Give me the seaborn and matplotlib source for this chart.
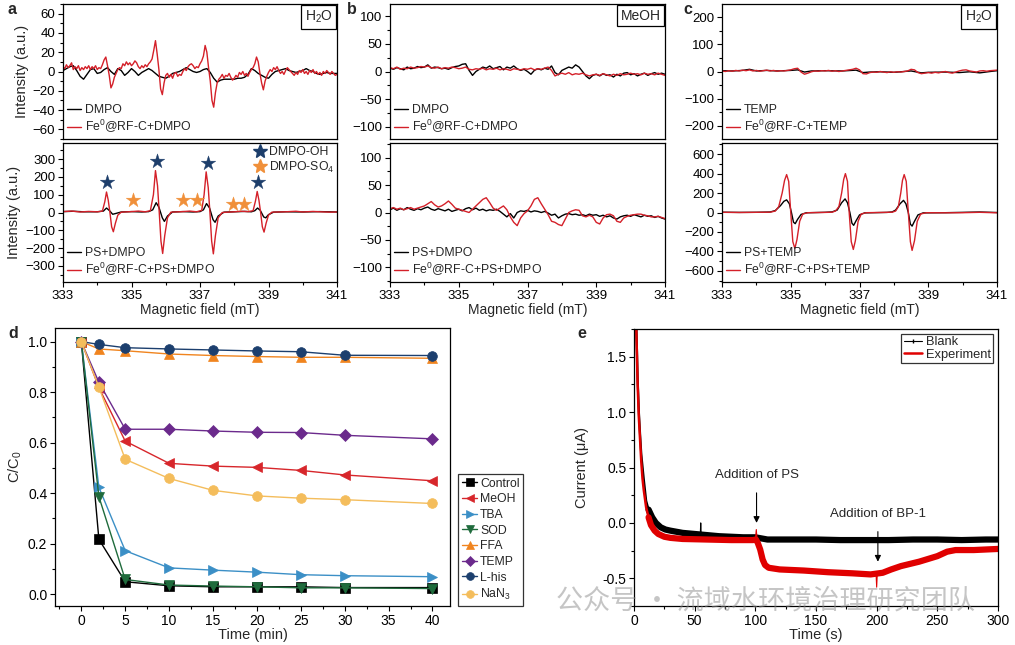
import numpy as np
import pandas as pd
import matplotlib
matplotlib.use("Agg")
from matplotlib import pyplot as plt
from matplotlib.lines import Line2D
from matplotlib.ticker import MultipleLocator, FormatStrFormatter
import seaborn as sns

# ---------------- EPR spectra (panels a-c) ----------------
# sampling grids of the field axis (mT)
FIELD_FINE = np.round(np.arange(333.0, 341.001, 0.05), 2)   # 161 pts
FIELD = np.round(np.arange(333.0, 341.001, 0.1), 1)          # 81 pts

# a, upper (H2O, no PS)
A1_DMPO = [1, 3, 5, 6, 1, -5, -8, -3, 2, 3,
           -2, -1, 2, 4, 0, -3, 3, 1, -4, -1,
           3, 0, -4, -1, 1, 3, 1, -2, -5, -6,
           -7, -5, -2, -1, 0, 2, 4, 2, 0, -1,
           0, 2, 3, -1, -7, -11, -9, -8, -8, -8,
           -8, -7, -7, -6, -3, 3, 1, -2, -4, -6,
           -7, -3, 0, 1, 2, 3, 1, 0, -1, 0,
           1, 3, 1, 0, -2, -3, -2, -1, -2, -2,
           -2]
A1_FE = [5, 3, 7, 4, 6, 9, 2, 5, 3, 6, 1, 4, 2, 5, 3, 6, 2, 5, 3, 6,
         2, 4, 3, 7, 12, 15, 6, -4, -17, -13, -6, -2, 2, 4, 3, 8, 6, 10, 7, 9,
         6, 8, 11, 9, 5, 3, 6, 4, 7, 5, 8, 10, 13, 22, 32, 18, 2, -18, -24, -12,
         -4, -2, -6, -3, -7, -2, -1, -5, -3, -4, 0, 3, 1, 5, 7, 8, 6, 3, 5, 4,
         8, 11, 16, 27, 20, 4, -10, -30, -37, -22, -12, -8, -6, -3, -7, -4, -5, -2, -6, -9,
         -7, -4, -6, -1, -3, 0, -4, -2, -5, -1, 2, 4, 8, 15, 10, -2, -12, -19, -10, -5,
         -1, 2, 0, 4, 2, 5, 1, -2, 0, -3, 1, 4, 2, 0, -2, -4, -1, -3, 1, -1,
         2, -2, 0, -3, 1, -1, 2, -2, 0, -3, -1, -4, 0, -2, 1, -1, -3, 0, -2, -4,
         -3]

# a, lower (H2O, with PS)
A2_PS_X = [333.0, 333.3, 333.6, 334.0, 334.18, 334.27, 334.36, 334.45, 334.55, 334.7,
           335.0, 335.3, 335.5, 335.62, 335.72, 335.8, 335.9, 335.96, 336.05, 336.2,
           336.5, 336.8, 337.0, 337.1, 337.19, 337.28, 337.38, 337.44, 337.53, 337.7,
           338.0, 338.3, 338.5, 338.6, 338.68, 338.76, 338.86, 338.92, 339.0, 339.15,
           339.5, 340.0, 340.5, 341.0]
A2_PS = [5, 7, 4, 4, 8, 25, 10, -10, -5, 3,
         5, 3, 5, 15, 55, 30, -30, -50, -20, 3,
         5, 3, 5, 15, 50, 25, -40, -55, -20, 2,
         4, 6, 4, 10, 25, 12, -25, -30, -12, 2,
         4, 3, 5, 3]
A2_FE_X = [333.0, 333.25, 333.5, 333.75, 334.0, 334.15, 334.22, 334.27, 334.32, 334.37,
           334.42, 334.47, 334.53, 334.6, 334.7, 335.0, 335.2, 335.4, 335.55, 335.64,
           335.7, 335.76, 335.81, 335.86, 335.91, 335.97, 336.05, 336.15, 336.5, 336.7,
           336.9, 337.05, 337.12, 337.18, 337.24, 337.29, 337.34, 337.39, 337.45, 337.53,
           337.65, 338.0, 338.2, 338.4, 338.55, 338.62, 338.67, 338.72, 338.77, 338.82,
           338.87, 338.93, 339.0, 339.1, 339.5, 339.8, 340.0, 340.3, 340.5, 340.8,
           341.0]
A2_FE = [5, 8, 3, 6, 4, 8, 60, 115, 70, 0,
         -80, -108, -60, -15, 2, 5, 8, 4, 10, 100,
         235, 150, 0, -160, -230, -130, -30, 2, 5, 8,
         4, 12, 100, 228, 140, 0, -160, -232, -130, -30,
         0, 4, 7, 5, 10, 65, 118, 70, 0, -80,
         -110, -60, -15, 2, 4, 7, 3, 6, 4, 2,
         3]
OH_STAR_X = [334.29, 335.73, 337.22, 338.69]
OH_STAR_Y = [172, 290, 276, 172]
SO4_STAR_X = [335.03, 336.49, 336.9, 337.95, 338.29]
SO4_STAR_Y = [72, 72, 72, 50, 50]

# b, upper (MeOH, no PS)
B1_DMPO = [6, 4, 7, 5, 3, 8, 5, 6, 9, 7,
           8, 12, 6, 8, 7, 5, 6, 4, 7, 9,
           10, 13, 14, 2, -7, 0, 4, 8, 6, 10,
           5, 7, 9, 3, 8, 6, 10, 5, 2, 4,
           0, -5, 2, 5, 3, 6, 4, 10, -2, -6,
           2, 5, 8, 6, 12, 8, 0, -8, -13, -7,
           -5, -8, -4, -7, -6, -10, -5, -8, -3, -2,
           -6, -4, -8, -5, -3, -7, -4, -2, -5, -3,
           -5]
B1_FE = [7, 5, 8, 4, 6, 5, 8, 6, 7, 9,
         8, 10, 7, 6, 8, 5, 7, 6, 8, 7,
         5, 6, 8, 4, 3, 5, 4, 6, 3, 5,
         4, 6, 3, 5, 4, 2, 5, 4, 3, 5,
         4, 6, 3, 5, 4, 6, 8, 2, -8, -5,
         -3, -5, -2, -6, -4, -5, -3, -6, -8, -6,
         -5, -7, -4, -6, -8, -5, -7, -4, -6, -5,
         -3, -5, -4, -6, -3, -5, -4, -6, -3, -5,
         -7]

# b, lower (MeOH, with PS)
B2_PS = [5, 8, 4, 7, 5, 9, 6, 4, 7, 5,
         8, 10, 6, 4, 7, 5, 3, 6, 2, 4,
         6, 3, 7, 9, 5, 8, 4, 6, 3, 5,
         4, 6, 2, -3, -8, -2, -10, 0, 3, 2,
         4, 1, 3, 2, 0, 2, -1, -5, -3, -10,
         -6, -3, -2, -4, -3, -5, -4, -6, -3, -5,
         -4, -7, -5, -8, -6, -10, -12, -8, -6, -5,
         -7, -4, -6, -8, -5, -7, -6, -9, -7, -10,
         -12]
B2_FE = [7, 9, 6, 8, 5, 7, 9, 6, 8, 10,
         12, 16, 20, 14, 10, 12, 16, 21, 15, 8,
         6, 4, 2, 0, 6, 12, 18, 24, 27, 18,
         8, 4, 8, 12, 5, -8, -18, -24, -10, -2,
         3, 12, 24, 27, 16, 6, -4, -16, -18, -22,
         -24, -12, 0, 3, 5, 4, -6, -8, -5, -8,
         -18, -21, -10, -4, -3, -6, -16, -18, -10, -7,
         -5, -4, -3, -3, -5, -6, -8, -8, -7, -9,
         -11]

# c, upper (H2O, TEMP, no PS)
C1_TEMP_X = [333.0, 333.3, 333.6, 333.8, 334.0, 334.3, 334.6, 335.0, 335.2, 335.4,
             335.6, 336.0, 336.5, 336.9, 337.1, 337.3, 337.6, 338.0, 338.5, 338.8,
             339.0, 339.5, 339.9, 340.2, 340.5, 340.8, 341.0]
C1_TEMP = [3, 2, 4, 8, 2, 4, 2, 4, 6, -2,
           2, 3, 2, 5, -4, -2, -1, -3, 2, -5,
           -3, -2, -4, -1, -5, 0, 3]
C1_FE = [2, 0, 3, 1, 4, 2, 5, 3, 6, 2,
         4, 1, 3, 5, 2, 4, 1, 3, 2, 4,
         6, 10, 12, -2, -10, -6, -1, 2, 1, 3,
         2, 4, 1, 3, 0, 2, 4, 6, 8, 12,
         6, -8, -9, -4, -2, -3, 0, -2, -4, -1,
         -3, -1, -2, 0, 2, 8, 6, -4, -8, -6,
         -4, -6, -3, -5, -2, 0, -4, -6, -2, 2,
         5, 6, 2, 0, -2, 2, 3, 1, 3, 4,
         5]

# c, lower (H2O, TEMP, with PS)
C2_PS_X = [333.0, 333.5, 334.0, 334.4, 334.55, 334.7, 334.8, 334.88, 334.96, 335.02,
           335.08, 335.13, 335.2, 335.3, 335.45, 336.0, 336.2, 336.35, 336.48, 336.58,
           336.65, 336.72, 336.78, 336.83, 336.9, 337.0, 337.15, 337.8, 337.95, 338.05,
           338.18, 338.28, 338.35, 338.42, 338.48, 338.53, 338.6, 338.7, 338.85, 339.5,
           340.5, 341.0]
C2_PS = [3, 1, 2, 5, 20, 70, 115, 130, 90, 0,
         -100, -115, -70, -20, -3, 2, 6, 25, 100, 140,
         100, 0, -110, -132, -85, -25, -4, 1, 6, 25,
         90, 125, 90, 0, -120, -140, -90, -25, -4, -2,
         5, 0]
C2_FE_X = [333.0, 333.5, 334.0, 334.4, 334.55, 334.65, 334.75, 334.82, 334.88, 334.94,
           335.0, 335.06, 335.12, 335.18, 335.26, 335.35, 335.5, 336.0, 336.2, 336.3,
           336.4, 336.48, 336.54, 336.59, 336.65, 336.7, 336.76, 336.82, 336.88, 336.96,
           337.05, 337.2, 337.7, 337.95, 338.05, 338.13, 338.2, 338.25, 338.3, 338.36,
           338.42, 338.48, 338.53, 338.6, 338.68, 338.78, 338.95, 339.5, 340.0, 340.5,
           340.8, 341.0]
C2_FE = [2, 0, 2, 3, 15, 60, 200, 330, 390, 320,
         0, -300, -370, -280, -90, -15, -2, 1, 3, 15,
         60, 200, 340, 400, 320, 0, -300, -380, -290, -90,
         -15, -2, 1, 3, 15, 60, 200, 330, 390, 320,
         0, -300, -390, -290, -90, -15, -2, -3, -2, 2,
         -1, -3]

# ---------------- d: quenching tests ----------------
TIME_MIN = [0, 2, 5, 10, 15, 20, 25, 30, 40]
QUENCHERS = ["Control", "MeOH", "TBA", "SOD", "FFA", "TEMP", "L-his", "NaN$_3$"]
CONTROL = [1.0, 0.217, 0.049, 0.033, 0.029, 0.029, 0.029, 0.026, 0.026]
MEOH = [1.0, 0.818, 0.606, 0.518, 0.507, 0.502, 0.49, 0.472, 0.449]
TBA = [1.0, 0.423, 0.172, 0.104, 0.095, 0.087, 0.077, 0.073, 0.069]
SOD = [1.0, 0.386, 0.058, 0.036, 0.032, 0.029, 0.025, 0.025, 0.022]
FFA = [1.0, 0.971, 0.964, 0.951, 0.945, 0.941, 0.938, 0.938, 0.934]
TEMP = [1.0, 0.839, 0.653, 0.653, 0.646, 0.641, 0.64, 0.629, 0.615]
LHIS = [1.0, 0.989, 0.976, 0.971, 0.967, 0.963, 0.96, 0.946, 0.945]
NAN3 = [1.0, 0.82, 0.534, 0.458, 0.411, 0.389, 0.38, 0.374, 0.359]
Q_COLORS = ["#000000", "#d7262b", "#3b8fc6", "#1f6b3c", "#f0841e", "#6b2a8c", "#1c3f6e", "#f4bd5c"]
Q_MARKERS = ["s", "<", ">", "v", "^", "D", "o", "o"]

# ---------------- e: current-time curves ----------------
BLANK_T = [0.3, 1, 2, 3, 4, 5, 6, 8, 10, 12, 15, 18, 22, 26, 30, 40, 50, 60, 70, 80,
           90, 100, 110, 130, 150, 170, 190, 210, 230, 250, 270, 290, 300]
BLANK_I = [3.2, 2.4, 1.75, 1.3, 1.0, 0.8, 0.62, 0.4, 0.2, 0.12, 0.05, 0.0, -0.04, -0.06, -0.07,
           -0.09, -0.1, -0.11, -0.12, -0.125, -0.13, -0.13, -0.15, -0.15, -0.15, -0.155,
           -0.155, -0.155, -0.15, -0.15, -0.155, -0.15, -0.15]
BLANK_SPIKE_T = [54.6, 55.0, 55.4]
BLANK_SPIKE_I = [-0.11, 0.0, -0.11]
EXP_T = [0.3, 1, 2, 3, 4, 5, 6, 7, 8, 10, 12, 14, 17, 20, 25, 30, 40, 60, 80, 98,
         100.5, 102, 104, 106, 108, 111, 120, 140, 160, 180, 195, 205, 212, 220, 235, 250,
         258, 265, 280, 300]
EXP_I = [3.3, 2.5, 1.7, 1.25, 0.95, 0.75, 0.55, 0.4, 0.3, 0.14, 0.05, -0.02, -0.07, -0.1,
         -0.125, -0.135, -0.145, -0.15, -0.155, -0.155, -0.15, -0.18, -0.24, -0.33, -0.38,
         -0.405, -0.42, -0.43, -0.445, -0.455, -0.465, -0.45, -0.42, -0.39, -0.35, -0.3,
         -0.26, -0.245, -0.245, -0.235]
PS_SPIKE_T = [100.0, 100.8, 101.5]
PS_SPIKE_I = [-0.15, -0.06, -0.16]
BP_SPIKE_T = [199.5, 200.0, 200.5]
BP_SPIKE_I = [-0.46, -0.58, -0.46]

RED = "#d42029"
NAVY = "#1d3e6b"
ORANGE = "#f0903a"

sns.set_theme(style="ticks")
plt.rcParams["font.family"] = ["Liberation Sans", "Noto Sans CJK SC", "DejaVu Sans"]
plt.rcParams["mathtext.fontset"] = "custom"
plt.rcParams["mathtext.rm"] = "Liberation Sans"
plt.rcParams["mathtext.it"] = "Liberation Sans:italic"
plt.rcParams["mathtext.bf"] = "Liberation Sans:bold"
plt.rcParams["axes.edgecolor"] = "black"

W, H = 1015, 645
fig = plt.figure(figsize=(W / 100, H / 100), dpi=100)


def px_axes(left, top, right, bottom):
    return fig.add_axes([left / W, 1 - bottom / H, (right - left) / W, (bottom - top) / H])


def style(ax, fs=10):
    for s in ax.spines.values():
        s.set_visible(True)
        s.set_linewidth(0.9)
        s.set_color("black")
    ax.tick_params(which="both", direction="out", color="black", width=0.8,
                   labelsize=fs, pad=2, labelcolor="black")
    ax.tick_params(which="major", length=3.5)
    ax.tick_params(which="minor", length=2)


def trace(ax, x, y, color, label, lw=1.0):
    sns.lineplot(x=x, y=y, ax=ax, color=color, lw=lw, label=label,
                 estimator=None, sort=False)


def epr_axes(ax, ylim, major, minor, bottom):
    style(ax, 9.5)
    ax.set_xlim(333, 341)
    ax.set_ylim(*ylim)
    ax.xaxis.set_major_locator(MultipleLocator(2, offset=1))
    ax.xaxis.set_minor_locator(MultipleLocator(1))
    ax.yaxis.set_major_locator(MultipleLocator(major))
    ax.yaxis.set_minor_locator(MultipleLocator(minor))
    ax.set_ylabel("")
    if bottom:
        ax.set_xlabel("Magnetic field (mT)", fontsize=10, labelpad=1)
    else:
        ax.set_xlabel("")
        ax.tick_params(axis="x", which="both", bottom=False, labelbottom=False)


def epr_legend(ax):
    ax.legend(loc="lower left", frameon=False, fontsize=8.8,
              handlelength=1.2, handletextpad=0.3, labelspacing=0.15, borderaxespad=0.1,
              borderpad=0.2)


def solvent_box(ax, text):
    ax.text(0.985, 0.965, text, transform=ax.transAxes, ha="right", va="top", fontsize=10,
            bbox=dict(boxstyle="square,pad=0.25", fc="white", ec="black", lw=0.9))


# ---- panel a ----
ax = px_axes(63, 4, 337, 139)
trace(ax, FIELD, A1_DMPO, "black", "DMPO")
trace(ax, FIELD_FINE, A1_FE, RED, "Fe$^0$@RF-C+DMPO")
epr_axes(ax, (-70, 70), 20, 10, False)
epr_legend(ax)
solvent_box(ax, "H$_2$O")
ax.set_ylabel("Intensity (a.u.)", fontsize=10.5, labelpad=3)

ax = px_axes(63, 143, 337, 282)
trace(ax, A2_PS_X, A2_PS, "black", "PS+DMPO")
trace(ax, A2_FE_X, A2_FE, RED, "Fe$^0$@RF-C+PS+DMPO")
sns.scatterplot(x=OH_STAR_X, y=OH_STAR_Y, ax=ax, marker="*", s=120, color=NAVY,
                edgecolor=NAVY, linewidth=0.3, legend=False, zorder=5)
sns.scatterplot(x=SO4_STAR_X, y=SO4_STAR_Y, ax=ax, marker="*", s=120, color=ORANGE,
                edgecolor=ORANGE, linewidth=0.3, legend=False, zorder=5)
epr_axes(ax, (-390, 390), 100, 50, True)
ax.set_ylabel("Intensity (a.u.)", fontsize=10.5, labelpad=3)
star_leg = ax.legend(handles=[Line2D([], [], ls="none", marker="*", ms=10.5, color=NAVY),
                              Line2D([], [], ls="none", marker="*", ms=10.5, color=ORANGE)],
                     labels=["DMPO-OH", "DMPO-SO$_4$"], loc="upper right", frameon=False,
                     fontsize=8.8, handlelength=0.8,
                     handletextpad=0.3, labelspacing=0.12, borderaxespad=0.05, borderpad=0.2)
ax.add_artist(star_leg)
epr_legend(ax)

# ---- panel b ----
ax = px_axes(390, 4, 665, 139)
trace(ax, FIELD, B1_DMPO, "black", "DMPO")
trace(ax, FIELD, B1_FE, RED, "Fe$^0$@RF-C+DMPO")
epr_axes(ax, (-122, 122), 50, 25, False)
epr_legend(ax)
solvent_box(ax, "MeOH")

ax = px_axes(390, 143, 665, 282)
trace(ax, FIELD, B2_PS, "black", "PS+DMPO")
trace(ax, FIELD, B2_FE, RED, "Fe$^0$@RF-C+PS+DMPO")
epr_axes(ax, (-127, 127), 50, 25, True)
epr_legend(ax)

# ---- panel c ----
ax = px_axes(722, 4, 997, 139)
trace(ax, C1_TEMP_X, C1_TEMP, "black", "TEMP")
trace(ax, FIELD, C1_FE, RED, "Fe$^0$@RF-C+TEMP")
epr_axes(ax, (-248, 248), 100, 50, False)
epr_legend(ax)
solvent_box(ax, "H$_2$O")

ax = px_axes(722, 143, 997, 282)
trace(ax, C2_PS_X, C2_PS, "black", "PS+TEMP")
trace(ax, C2_FE_X, C2_FE, RED, "Fe$^0$@RF-C+PS+TEMP")
epr_axes(ax, (-715, 715), 200, 100, True)
epr_legend(ax)

# ---- panel d ----
ax = px_axes(55, 328, 450, 606)
series = [CONTROL, MEOH, TBA, SOD, FFA, TEMP, LHIS, NAN3]
for name, vals, col, mk in zip(QUENCHERS, series, Q_COLORS, Q_MARKERS):
    sns.lineplot(x=TIME_MIN, y=vals, ax=ax, color=col, marker=mk, lw=1.0,
                 markersize=7 if mk != "D" else 6, markeredgecolor=col, markeredgewidth=0.5,
                 label=name, estimator=None, sort=False)
style(ax, 10)
ax.set_xlim(-3, 42)
ax.set_ylim(-0.047, 1.054)
ax.xaxis.set_major_locator(MultipleLocator(5))
ax.xaxis.set_minor_locator(MultipleLocator(2.5))
ax.yaxis.set_major_locator(MultipleLocator(0.2))
ax.yaxis.set_minor_locator(MultipleLocator(0.1))
ax.yaxis.set_major_formatter(FormatStrFormatter("%.1f"))
ax.set_xlabel("Time (min)", fontsize=10.5, labelpad=0)
ax.set_ylabel("C/C$_0$", fontsize=10.5, labelpad=3)
leg = ax.legend(loc="lower left", bbox_to_anchor=(1.02, 0.0), borderaxespad=0,
                frameon=True, fancybox=False, edgecolor="black", fontsize=8.8,
                handlelength=1.3, handletextpad=0.2, labelspacing=0.3, borderpad=0.3,
                markerscale=0.8)
leg.get_frame().set_linewidth(0.9)

# ---- panel e ----
ax = px_axes(634, 329, 998, 606)
sns.lineplot(x=BLANK_T, y=BLANK_I, ax=ax, color="black", lw=1.6, estimator=None, sort=False)
sns.lineplot(x=BLANK_T[9:], y=BLANK_I[9:], ax=ax, color="black", lw=4.5,
             estimator=None, sort=False)
sns.lineplot(x=BLANK_SPIKE_T, y=BLANK_SPIKE_I, ax=ax, color="black", lw=0.8,
             estimator=None, sort=False)
sns.lineplot(x=EXP_T, y=EXP_I, ax=ax, color="#e00000", lw=1.8, estimator=None, sort=False)
sns.lineplot(x=EXP_T[10:], y=EXP_I[10:], ax=ax, color="#e00000", lw=4.5,
             estimator=None, sort=False)
for st, si in [(PS_SPIKE_T, PS_SPIKE_I), (BP_SPIKE_T, BP_SPIKE_I)]:
    sns.lineplot(x=st, y=si, ax=ax, color="#e00000", lw=0.8, estimator=None, sort=False)
style(ax, 10)
ax.set_xlim(0, 300)
ax.set_ylim(-0.75, 1.75)
ax.xaxis.set_major_locator(MultipleLocator(50))
ax.xaxis.set_minor_locator(MultipleLocator(25))
ax.yaxis.set_major_locator(MultipleLocator(0.5))
ax.yaxis.set_minor_locator(MultipleLocator(0.25))
ax.yaxis.set_major_formatter(FormatStrFormatter("%.1f"))
ax.set_xlabel("Time (s)", fontsize=10.5, labelpad=0)
ax.set_ylabel("Current (μA)", fontsize=10.5, labelpad=10)
ax.annotate("Addition of PS", xy=(101, 0.0), xytext=(101, 0.43), ha="center", va="center",
            fontsize=9.5, arrowprops=dict(arrowstyle="-|>", color="black", lw=0.8,
                                          mutation_scale=9, shrinkA=6, shrinkB=0))
ax.annotate("Addition of BP-1", xy=(201, -0.35), xytext=(201, 0.08), ha="center",
            va="center", fontsize=9.5,
            arrowprops=dict(arrowstyle="-|>", color="black", lw=0.8, mutation_scale=9,
                            shrinkA=6, shrinkB=0))
e_leg = ax.legend(handles=[Line2D([], [], color="black", lw=0.8, marker="|", ms=3),
                           Line2D([], [], color="#e00000", lw=1.8)],
                  labels=["Blank", "Experiment"], loc="upper right", frameon=True,
                  fancybox=False, edgecolor="black", fontsize=9.3, handlelength=1.4,
                  handletextpad=0.3, labelspacing=0.05, borderpad=0.2, borderaxespad=0.35)
e_leg.get_frame().set_linewidth(0.9)

# ---- panel letters and watermark ----
for letter, x, y in [("a", 8, 10), ("b", 347, 10), ("c", 683, 10), ("d", 8, 334), ("e", 577, 334)]:
    fig.text(x / W, 1 - y / H, letter, fontsize=11.5, fontweight="bold", ha="left", va="center")

fig.text(765 / W, 1 - 601 / H, "公众号 · 流域水环境治理研究团队", fontsize=19.5, color="#8c8c8c",
         alpha=0.5, ha="center", va="center", family=["Noto Sans CJK SC", "DejaVu Sans"],
         zorder=10)

fig.savefig("out.png", dpi=100)
